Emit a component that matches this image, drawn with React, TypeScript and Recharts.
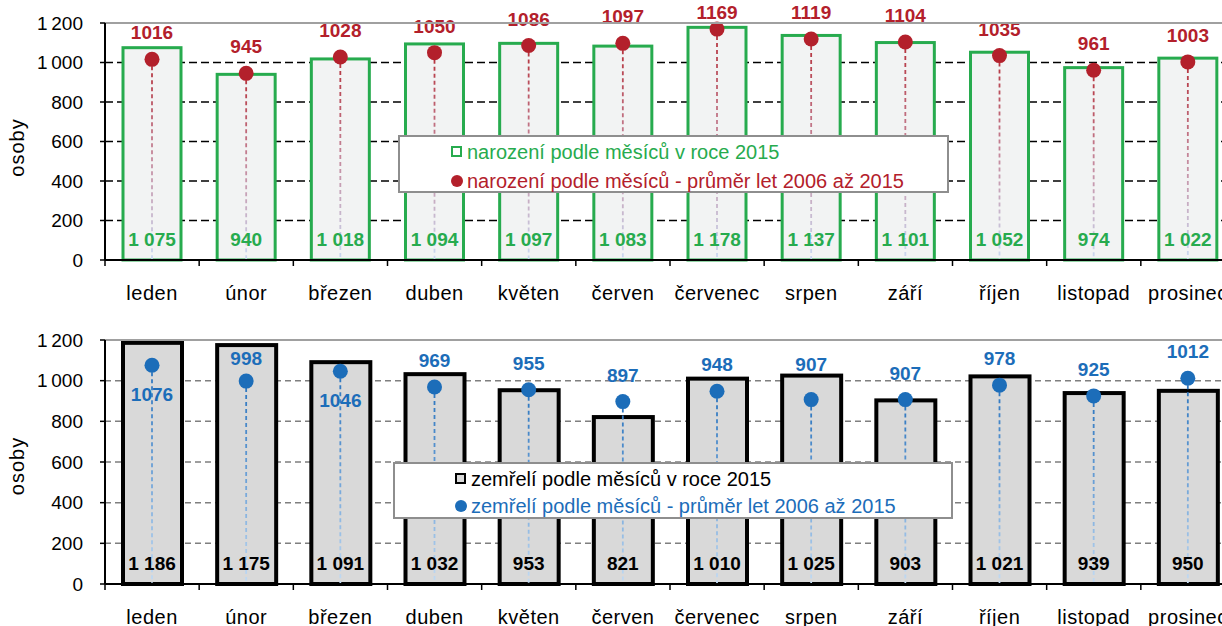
import React from 'react';
import { ComposedChart, Bar, XAxis, YAxis, CartesianGrid, ReferenceLine, Legend } from 'recharts';

const months = ['leden', 'únor', 'březen', 'duben', 'květen', 'červen', 'červenec', 'srpen', 'září', 'říjen', 'listopad', 'prosinec'];
const births2015 = [1075, 940, 1018, 1094, 1097, 1083, 1178, 1137, 1101, 1052, 974, 1022];
const birthsAvg = [1016, 945, 1028, 1050, 1086, 1097, 1169, 1119, 1104, 1035, 961, 1003];
const deaths2015 = [1186, 1175, 1091, 1032, 953, 821, 1010, 1025, 903, 1021, 939, 950];
const deathsAvg = [1076, 998, 1046, 969, 955, 897, 948, 907, 907, 978, 925, 1012];
const yTicks = [0, 200, 400, 600, 800, 1000, 1200];
const belowLabelMonths = ['leden', 'březen'];
const labelNudge: Record<string, number> = { 'srpen': -9, 'únor': 4 };

const birthsName = 'narození podle měsíců v roce 2015';
const birthsAvgName = 'narození podle měsíců - průměr let 2006 až 2015';
const deathsName = 'zemřelí podle měsíců v roce 2015';
const deathsAvgName = 'zemřelí podle měsíců - průměr let 2006 až 2015';

const birthData = months.map((m, i) => ({ month: m, value: births2015[i], avg: birthsAvg[i] }));
const deathData = months.map((m, i) => ({ month: m, value: deaths2015[i], avg: deathsAvg[i] }));

const FONT = '"Liberation Sans", Arial, sans-serif';
const GREEN = '#27AB4E';
const RED = '#B3202B';
const BLUE = '#1C6DB9';

const fmtBar = (n: number) => String(n).replace(/\B(?=(\d{3})+(?!\d))/g, '\u00A0');
const fmtTick = (n: number) => String(n).replace(/\B(?=(\d{3})+(?!\d))/g, '\u2009');

const XTick = (props: any) => {
  const { x, y, payload, index, visibleTicksCount } = props;
  const off = payload && payload.offset ? payload.offset : 0;
  return (
    <g>
      <line x1={x - off} x2={x - off} y1={y} y2={y + 6} stroke="#000" strokeWidth={1.5} />
      {index === visibleTicksCount - 1 && (
        <line x1={x + off} x2={x + off} y1={y} y2={y + 6} stroke="#000" strokeWidth={1.5} />
      )}
      <text x={x} y={y + 40} textAnchor="middle" fill="#000" style={{ fontFamily: FONT, fontSize: 20, letterSpacing: 0.5 }}>
        {payload.value}
      </text>
    </g>
  );
};

const YLabel = (props: any) => {
  const vb = props.viewBox || { x: 0, y: 0, height: 0 };
  const cx = vb.x + 17;
  const cy = vb.y + vb.height / 2 + (props.shift || 0);
  return (
    <text x={cx} y={cy} transform={`rotate(-90 ${cx} ${cy})`} textAnchor="middle" dominantBaseline="central"
      fill="#000" style={{ fontFamily: FONT, fontSize: 20, letterSpacing: 1 }}>
      osoby
    </text>
  );
};

const makeBarShape = (fill: string, stroke: string, sw: number) => (props: any) => {
  const { x, y, width, height } = props;
  return <rect x={x} y={y} width={width} height={height} fill={fill} stroke={stroke} strokeWidth={sw} />;
};

const makeDotShape = (key: string, color: string, labelColor: string, barLabelColor: string,
  c1: string, c2: string, c3: string, minLabelY: number) => (props: any) => {
  const { x, y, width, height, payload, index } = props;
  const cx = x + width / 2;
  const id = `grad-${key}-${index}`;
  const isDeaths = key === 'deaths';
  const below = isDeaths && belowLabelMonths.includes(payload.month);
  const nudge = isDeaths ? (labelNudge[payload.month] || 0) : 0;
  const ly = below ? y + 36 : Math.max(y - 20 + nudge, minLabelY);
  return (
    <g>
      <defs>
        <linearGradient id={id} gradientUnits="userSpaceOnUse" x1={cx} y1={y} x2={cx} y2={y + height}>
          <stop offset="0%" stopColor={c1} />
          <stop offset="50%" stopColor={c2} />
          <stop offset="100%" stopColor={c3} />
        </linearGradient>
      </defs>
      <line x1={cx} x2={cx} y1={y} y2={y + height} stroke={`url(#${id})`} strokeWidth={1.8} strokeDasharray="4 3" />
      <circle cx={cx} cy={y} r={7.5} fill={color} />
      <text x={cx} y={ly} textAnchor="middle" fill={labelColor} style={{ fontFamily: FONT, fontSize: 19, fontWeight: 700 }}>
        {payload.avg}
      </text>
      <text x={cx} y={y + height - 14} textAnchor="middle" fill={barLabelColor}
        style={{ fontFamily: FONT, fontSize: 19, fontWeight: 700 }}>
        {fmtBar(payload.value)}
      </text>
    </g>
  );
};

const LegendBox = (p: any) => {
  const { width, height, markerLeft, textLeft, row1, row2, square, dot, text1, text2, color1, color2 } = p;
  return (
    <div style={{
      width, height, boxSizing: 'border-box', border: '2px solid #8E8E8E', background: '#fff',
      position: 'relative', fontFamily: FONT, fontSize: 20,
    }}>
      <div style={{ position: 'absolute', left: markerLeft, top: row1 - 6, width: 11, height: 11, boxSizing: 'border-box', border: `2px solid ${square.border}`, background: square.fill }} />
      <div style={{ position: 'absolute', left: textLeft, top: row1 - 12, lineHeight: '24px', color: color1, whiteSpace: 'nowrap' }}>{text1}</div>
      <div style={{ position: 'absolute', left: markerLeft, top: row2 - 6, width: 12, height: 12, borderRadius: 6, background: dot }} />
      <div style={{ position: 'absolute', left: textLeft, top: row2 - 12, lineHeight: '24px', color: color2, whiteSpace: 'nowrap' }}>{text2}</div>
    </div>
  );
};

const birthBarShape = makeBarShape('#F2F3F3', GREEN, 3);
const birthDotShape = makeDotShape('births', RED, RED, GREEN, '#B5303A', '#C58A9E', '#CADAF2', 19);
const deathBarShape = makeBarShape('#D9D9D9', '#000', 4);
const deathDotShape = makeDotShape('deaths', BLUE, BLUE, '#000', '#2A74BE', '#6FA3D8', '#C3DBF3', 19);

export default function App() {
  return (
    <div style={{ position: 'absolute', left: 0, top: 0, width: 1222, height: 626, overflow: 'hidden', background: '#fff' }}>
      <div style={{ position: 'absolute', left: 0, top: 0 }}>
        <ComposedChart width={1245} height={310} data={birthData} margin={{ top: 23, right: 10, bottom: 0, left: 0 }} barGap={0}>
          <CartesianGrid vertical={false} stroke="#000" strokeDasharray="8 4" strokeWidth={1.5} />
          <XAxis dataKey="month" height={50} axisLine={{ stroke: '#000', strokeWidth: 2 }} tickLine={false} tickSize={0} tickMargin={0}
            tick={<XTick />} interval={0} />
          <XAxis xAxisId="dots" dataKey="month" hide />
          <YAxis width={105} domain={[0, 1200]} ticks={yTicks} interval={0} tickFormatter={fmtTick}
            axisLine={{ stroke: '#000', strokeWidth: 2 }} tickLine={{ stroke: '#000', strokeWidth: 1.5 }} tickSize={5} tickMargin={17}
            tick={{ fill: '#000', fontSize: 19, fontFamily: FONT }} label={<YLabel shift={6} />} />
          <ReferenceLine y={1200} stroke="#A0A0A0" strokeWidth={2} />
          <Bar dataKey="value" name={birthsName} barSize={58} shape={birthBarShape} isAnimationActive={false} />
          <Bar dataKey="avg" name={birthsAvgName} xAxisId="dots" barSize={14} shape={birthDotShape} isAnimationActive={false} />
          <Legend layout="vertical" align="center" verticalAlign="middle"
            wrapperStyle={{ position: 'absolute', left: 398, top: 135, width: 551, height: 58 }}
            content={() => (
              <LegendBox width={551} height={58} markerLeft={51} textLeft={67} row1={15} row2={44}
                square={{ border: GREEN, fill: '#fff' }} dot={RED} text1={birthsName} text2={birthsAvgName}
                color1={GREEN} color2={RED} />
            )} />
        </ComposedChart>
      </div>
      <div style={{ position: 'absolute', left: 0, top: 310 }}>
        <ComposedChart width={1245} height={316} data={deathData} margin={{ top: 30, right: 10, bottom: 0, left: 0 }} barGap={0}>
          <CartesianGrid vertical={false} stroke="#7F7F7F" strokeDasharray="6 4" strokeWidth={1.5} />
          <XAxis dataKey="month" height={42} axisLine={{ stroke: '#000', strokeWidth: 2 }} tickLine={false} tickSize={0} tickMargin={0}
            tick={<XTick />} interval={0} />
          <XAxis xAxisId="dots" dataKey="month" hide />
          <YAxis width={105} domain={[0, 1200]} ticks={yTicks} interval={0} tickFormatter={fmtTick}
            axisLine={{ stroke: '#000', strokeWidth: 2 }} tickLine={{ stroke: '#000', strokeWidth: 1.5 }} tickSize={5} tickMargin={17}
            tick={{ fill: '#000', fontSize: 19, fontFamily: FONT }} label={<YLabel shift={4} />} />
          <ReferenceLine y={1200} stroke="#A0A0A0" strokeWidth={2} />
          <Bar dataKey="value" name={deathsName} barSize={59} shape={deathBarShape} isAnimationActive={false} />
          <Bar dataKey="avg" name={deathsAvgName} xAxisId="dots" barSize={14} shape={deathDotShape} isAnimationActive={false} />
          <Legend layout="vertical" align="center" verticalAlign="middle"
            wrapperStyle={{ position: 'absolute', left: 393, top: 152, width: 560, height: 57 }}
            content={() => (
              <LegendBox width={560} height={57} markerLeft={60} textLeft={76} row1={15} row2={42}
                square={{ border: '#000', fill: '#D9D9D9' }} dot={BLUE} text1={deathsName} text2={deathsAvgName}
                color1="#000" color2={BLUE} />
            )} />
        </ComposedChart>
      </div>
    </div>
  );
}
